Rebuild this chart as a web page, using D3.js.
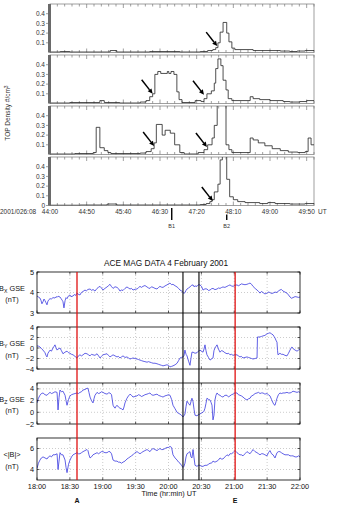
<!DOCTYPE html>
<html><head><meta charset="utf-8">
<script src="https://cdn.jsdelivr.net/npm/d3@7"></script>
<style>body{margin:0;background:#fff;} svg{display:block;font-family:"Liberation Sans",Arial,sans-serif;}</style>
</head><body><svg id="c" width="340" height="510"></svg>
<script>
// ---------- TOP chart: seconds after 08:44:00 (day 026, 2001) ----------
const topTickSecs = [0,50,100,150,200,250,300,350];
const topTickLabels = ["44:00","44:50","45:40","46:30","47:20","48:10","49:00","49:50"];
const densityYTicks = [0.1,0.2,0.3,0.4];
const density1 = [[0,0.005],[14,0.01],[27,0.005],[82,0.02],[91,0.005],[136,0.01],[177,0.005],[205,0.01],[215,0.02],[222,0.03],[226,0.05],[229,0.1],[232,0.21],[236,0.31],[241,0.2],[244,0.11],[248,0.045],[252,0.03],[277,0.02],[314,0.015],[327,0.01],[337,0.015],[348,0.02]];
const density2 = [[0,0.005],[27,0.01],[68,0.03],[74,0.01],[95,0.005],[123,0.015],[131,0.03],[136,0.07],[140,0.1],[143,0.3],[147,0.33],[151,0.31],[160,0.33],[162,0.31],[165,0.33],[169,0.3],[173,0.12],[176,0.04],[180,0.01],[198,0.03],[206,0.02],[210,0.05],[214,0.1],[220,0.13],[224,0.21],[226,0.36],[229,0.46],[233,0.39],[236,0.24],[240,0.14],[243,0.05],[248,0.03],[273,0.07],[277,0.05],[286,0.04],[300,0.03],[318,0.02],[327,0.015],[341,0.02],[350,0.03]];
const density3 = [[0,0.005],[34,0.01],[59,0.02],[63,0.28],[68,0.07],[74,0.04],[79,0.02],[83,0.01],[123,0.015],[131,0.03],[138,0.06],[142,0.12],[145,0.31],[153,0.2],[157,0.25],[164,0.22],[170,0.1],[177,0.02],[183,0.005],[202,0.02],[210,0.05],[215,0.1],[221,0.17],[224,0.3],[228,0.6],[240,0.1],[244,0.05],[248,0.02],[273,0.17],[277,0.15],[284,0.12],[293,0.09],[303,0.06],[314,0.04],[325,0.025],[338,0.02],[348,0.03],[352,0.17],[356,0.1]];
const density4 = [[0,0.003],[41,0.005],[78,0.015],[91,0.005],[150,0.005],[205,0.01],[213,0.02],[218,0.04],[221,0.06],[224,0.14],[229,0.22],[232,0.47],[235,0.6],[241,0.27],[245,0.09],[250,0.06],[256,0.04],[266,0.03],[286,0.02],[297,0.03],[307,0.02],[327,0.015],[348,0.02]];
// arrows: [panel index, time (s), density]
const arrowTips = [[0,228,0.066],[1,140,0.1],[1,210,0.09],[2,142,0.087],[2,214,0.077],[3,222,0.046]];
const bMarkers = [["B1",166,true],["B2",241,false]];

// ---------- BOTTOM chart: minutes after 18:00 UT ----------
const magTickMins = [0,30,60,90,120,150,180,210,240];
const magTickLabels = ["18:00","18:30","19:00","19:30","20:00","20:30","21:00","21:30","22:00"];
const bx = [[0,3.83],[1.3,3.78],[2.7,3.73],[3.6,3.62],[4.5,3.45],[5.5,3.55],[6.4,3.68],[7.3,3.6],[8.2,3.5],[9.1,3.4],[10,3.58],[11,3.66],[11.9,3.7],[13,3.68],[14.6,3.75],[16.4,3.73],[17.5,3.8],[18.3,3.76],[19.2,3.82],[21,3.78],[22,3.7],[23,3.62],[23.7,3.55],[24.6,3.25],[25.6,3.6],[26.5,3.75],[27.4,3.7],[28.5,3.82],[30.1,3.88],[31,3.8],[32.9,3.83],[34,3.9],[35.5,3.86],[36.5,3.97],[37.5,3.92],[39.2,3.88],[40.5,4.0],[42,4.05],[43.8,4.12],[45,4.08],[46.5,4.15],[48.4,4.17],[50,4.1],[51.1,4.15],[52.9,4.07],[54.8,4.2],[56,4.25],[57.5,4.3],[58.8,4.22],[60.2,4.12],[62,4.2],[63.9,4.27],[65,4.32],[66.6,4.4],[67.8,4.3],[69.4,4.2],[71.2,4.28],[73,4.25],[74.5,4.18],[75.7,4.07],[77,4.12],[78.5,4.1],[80.3,4.2],[82.1,4.27],[83.5,4.22],[84.9,4.17],[86.2,4.2],[87.6,4.12],[89.5,4.16],[91.3,4.17],[92.7,4.24],[94,4.3],[95.3,4.25],[96.7,4.3],[98.5,4.34],[100.4,4.27],[101.8,4.22],[103.1,4.2],[104.5,4.28],[105.9,4.25],[107.7,4.2],[109.5,4.17],[110.8,4.24],[112.2,4.3],[113.6,4.26],[115,4.25],[116.8,4.32],[118.6,4.37],[120,4.42],[121.4,4.46],[122.8,4.38],[124.1,4.4],[126,4.33],[127.8,4.27],[129.2,4.2],[130.5,4.12],[131.8,4.08],[133.2,4.02],[134.1,3.95],[135,4.0],[136,4.1],[136.9,4.17],[138.3,4.22],[139.6,4.27],[141,4.35],[142.4,4.37],[143.3,4.28],[144.2,4.32],[146,4.3],[147.3,4.38],[148.7,4.37],[150.1,4.3],[151.5,4.12],[153.3,4.18],[155.1,4.17],[156.5,4.1],[157.9,4.12],[159.2,4.18],[160.6,4.2],[162.4,4.14],[164.3,4.17],[165.6,4.22],[167,4.2],[168.3,4.24],[169.7,4.27],[171.5,4.25],[173.4,4.3],[174.8,4.34],[176.1,4.37],[177.5,4.32],[178.9,4.3],[180.7,4.35],[182.5,4.37],[183.8,4.33],[185.2,4.37],[186.5,4.42],[188,4.4],[189.8,4.38],[191.6,4.4],[193,4.43],[194.4,4.46],[195.8,4.4],[197.1,4.3],[199,4.2],[200.8,4.12],[202.2,4.05],[203.5,3.97],[204.8,4.05],[206.2,4.0],[208,3.93],[209.9,3.97],[211.2,4.02],[212.6,4.0],[214,3.95],[215.4,3.97],[217.2,4.02],[219,4.0],[220.3,4.08],[221.7,4.12],[223,4.15],[224.5,4.07],[226.3,4.02],[228.1,3.97],[229.5,3.88],[230.9,3.78],[232.2,3.72],[233.6,3.75],[235.5,3.8],[237.3,3.78],[238.6,3.76],[240,3.78]];
const by = [[0,0.4],[1.3,0.35],[2.7,0.2],[4,-0.1],[5.5,-0.4],[7.3,-0.9],[8.2,-1.4],[9.1,-1.7],[10,-1.0],[11.9,-0.4],[13.2,-0.6],[14.6,0],[15.5,0.3],[16.4,0.6],[17.3,0.1],[18.3,-0.4],[19.2,-0.2],[21,0],[22.3,-0.5],[23.7,-1.1],[25.5,-0.8],[27.4,-0.6],[28.8,-0.9],[30.1,-1.0],[31.5,-1.2],[32.9,-1.3],[34.7,-1.6],[36.5,-1.9],[37.8,-1.5],[39.2,-1.3],[40.6,-1.5],[42,-1.3],[43.8,-1.0],[45.6,-1.1],[47,-1.3],[48.4,-1.5],[49.7,-1.2],[51.1,-1.3],[52.9,-1.4],[54.8,-1.1],[56.2,-1.5],[57.5,-1.9],[58.8,-1.6],[60.2,-1.3],[62,-1.2],[63.9,-1.1],[65.2,-1.4],[66.6,-1.7],[68,-1.5],[69.4,-1.3],[71.2,-1.5],[73,-1.7],[74.3,-1.6],[75.7,-1.9],[77.1,-1.7],[78.5,-1.5],[80.3,-1.8],[82.1,-1.7],[83.5,-1.9],[84.9,-2.1],[86.2,-2.0],[87.6,-1.9],[89.4,-2.0],[91.3,-2.1],[92.6,-2.2],[94,-2.3],[95.3,-2.4],[96.7,-2.5],[98.5,-2.6],[100.4,-2.7],[101.8,-2.6],[103.1,-2.7],[104.5,-2.8],[105.9,-2.9],[107.7,-2.9],[109.5,-3.0],[110.8,-3.1],[112.2,-3.2],[113.6,-3.3],[115,-3.4],[116.8,-3.3],[118.6,-3.2],[120,-3.3],[121.4,-3.6],[122.8,-3.5],[124.1,-3.4],[126,-3.2],[127.8,-2.9],[129.2,-2.4],[130.5,-1.9],[131.8,-1.8],[133.2,-1.7],[134.1,-1.5],[135,-0.4],[136,-1.2],[136.9,-1.5],[138.3,-2.5],[139.6,-3.3],[140.5,-2.0],[141.4,-0.8],[142.4,-0.8],[144.2,-1.0],[146,-0.9],[147.3,-0.6],[148.7,-0.4],[150.1,-0.6],[151.5,-0.8],[152.4,-0.2],[153.3,0.6],[154.2,-0.5],[155.1,-1.3],[156.5,-1.8],[157.9,-2.3],[159.2,-2.1],[160.6,-1.9],[161.5,-0.5],[162.4,0.0],[163.3,0.3],[164.3,0.6],[165.6,-0.2],[167,-0.8],[168.3,-0.5],[169.7,-0.6],[171.5,-0.9],[173.4,-1.1],[174.8,-1.0],[176.1,-1.3],[177.5,-1.2],[178.9,-1.4],[180.7,-1.3],[182.5,-1.3],[183.8,-1.5],[185.2,-1.7],[186.5,-1.6],[188,-1.9],[189.8,-1.8],[191.6,-1.7],[193,-1.8],[194.4,-1.9],[195.8,-2.0],[197.1,-2.1],[199,-2.0],[200.8,-1.9],[201.2,2.1],[203.5,2.1],[204.8,2.2],[206.2,2.3],[208,2.4],[209.9,2.7],[211.2,2.8],[212.6,2.9],[214,2.7],[215.4,2.5],[216.3,2.2],[217.2,1.9],[218,1.5],[219,1.1],[219.5,-0.5],[219.9,-1.3],[221.7,-1.0],[223,-1.2],[224.5,-1.2],[226.3,-1.4],[228.1,-1.5],[229.5,-1.0],[230.9,-0.4],[232.2,0.1],[232.7,0.2],[233.6,-0.1],[235.5,-0.4],[237.3,-0.6],[238.6,-0.4],[240,-0.2]];
const bz = [[0,1.6],[1.3,2.4],[2.7,2.9],[4,3.2],[5.5,3.3],[7.3,3.0],[9.1,2.9],[10.5,3.2],[11.9,3.4],[13.2,3.2],[14.6,3.3],[16.4,3.5],[18.3,3.4],[19.2,0.4],[20.1,2.5],[21,3.8],[22.3,3.5],[23.7,3.6],[25.6,2.9],[26.5,2.0],[27.4,1.2],[28.8,2.2],[30.1,2.8],[31.5,3.0],[32.9,3.1],[34.7,3.2],[36.5,3.3],[37.8,3.2],[39.2,3.4],[40.6,3.5],[42,3.8],[43.8,3.9],[45.6,4.1],[46.5,4.1],[47.4,3.4],[48.4,2.6],[49.7,2.0],[51.1,1.6],[52,2.3],[52.9,2.9],[54.8,3.4],[56.2,3.2],[57.5,3.3],[58.8,3.5],[60.2,3.4],[62,3.2],[63.9,3.1],[65.2,3.3],[66.6,3.3],[68,3.0],[69.4,1.2],[70.3,0.9],[71.2,0.7],[72.1,1.0],[73,1.2],[74.3,0.9],[75.7,0.7],[77.1,0.6],[78.5,0.4],[79.4,0.9],[80.3,1.6],[81.2,2.0],[82.1,2.4],[83.5,2.8],[84.9,3.1],[86.2,2.9],[87.6,2.6],[89.4,2.7],[91.3,2.8],[92.6,3.0],[94,2.9],[95.3,2.7],[96.7,2.8],[98.5,3.0],[100.4,3.1],[101.8,3.2],[103.1,3.3],[104.5,3.0],[105.9,2.9],[107.7,3.0],[109.5,3.1],[110.8,2.9],[112.2,2.8],[113.6,2.7],[115,2.6],[116.8,2.8],[118.6,2.9],[120,3.0],[121.4,2.9],[122.8,2.2],[124.1,1.2],[126,0.6],[127.8,0.0],[129.2,-0.2],[130.5,-0.3],[131.8,-0.5],[133.2,-0.8],[134.1,-0.6],[135,-0.3],[136,1.0],[136.9,1.9],[138.3,1.5],[139.6,1.2],[140.5,1.8],[141.4,2.4],[142.4,1.8],[143.3,0.5],[144.2,-0.5],[146,-0.6],[147.3,-0.4],[148.7,-0.3],[150.1,-0.1],[151.5,0.0],[152.4,0.2],[153.3,0.7],[154.2,1.5],[155.1,2.4],[156.5,2.2],[157.9,2.1],[158.8,1.7],[159.7,1.2],[160.6,-1.3],[161.5,-0.5],[162.4,2.1],[163.3,2.9],[164.3,3.3],[165.6,3.0],[167,2.9],[168.3,2.7],[169.7,2.6],[171.5,2.9],[173.4,2.9],[174.8,2.6],[176.1,2.8],[177.5,3.0],[178.9,3.1],[180.7,3.3],[182.5,3.3],[183.8,3.0],[185.2,2.9],[186.5,2.8],[188,2.6],[189.8,2.3],[191.6,2.1],[193,2.3],[194.4,2.4],[195.8,2.8],[197.1,2.9],[199,3.2],[200.8,3.3],[202.2,3.4],[203.5,3.2],[204.8,3.3],[206.2,3.3],[208,3.1],[209.9,3.2],[211.2,3.0],[212.6,2.8],[214,2.2],[215.4,1.6],[216.3,1.3],[217.2,1.2],[218.1,1.8],[219,2.4],[220.3,3.0],[221.7,3.3],[223,3.2],[224.5,3.3],[226.3,3.3],[228.1,3.4],[229.5,3.3],[230.9,3.3],[232.2,3.4],[233.6,3.6],[235.5,3.5],[237.3,3.4],[238.6,3.5],[240,3.4]];
const bmag = [[0,4.1],[1.3,4.6],[2.7,4.9],[4,5.1],[5.5,5.2],[7.3,5.1],[9.1,5.0],[10.5,5.2],[11.9,5.3],[13.2,5.2],[14.6,5.4],[16.4,5.4],[18.3,5.5],[19.2,4.0],[20.1,4.8],[21,5.6],[22.3,5.4],[23.7,5.4],[25.6,4.9],[26.5,4.2],[27.4,3.7],[28.8,4.5],[30.1,4.9],[31.5,5.2],[32.9,5.4],[34.7,5.5],[36.5,5.6],[37.8,5.5],[39.2,5.5],[40.6,5.6],[42,5.7],[43.8,5.8],[45.6,5.9],[46.5,5.8],[47.4,5.4],[48.4,5.1],[49.7,5.2],[51.1,5.4],[52.9,5.5],[54.8,5.6],[56.2,5.5],[57.5,5.6],[58.8,5.7],[60.2,5.7],[62,5.6],[63.9,5.6],[65.2,5.7],[66.6,5.7],[68,5.5],[69.4,4.9],[71.2,4.8],[73,4.8],[74.3,4.7],[75.7,4.7],[77.1,4.6],[78.5,4.7],[80.3,4.8],[82.1,5.0],[83.5,5.1],[84.9,5.2],[86.2,5.3],[87.6,5.4],[89.4,5.6],[91.3,5.7],[92.6,5.6],[94,5.5],[95.3,5.6],[96.7,5.7],[98.5,5.8],[100.4,5.9],[101.8,5.8],[103.1,5.7],[104.5,5.9],[105.9,6.0],[107.7,5.9],[109.5,5.8],[110.8,5.9],[112.2,6.0],[113.6,5.9],[115,5.9],[116.8,6.0],[118.6,6.1],[120,6.1],[121.4,6.2],[122.8,6.1],[124.1,5.4],[126,5.1],[127.8,4.9],[129.2,4.7],[130.5,4.6],[131.8,4.4],[133.2,4.2],[134.1,4.3],[135,4.6],[136,5.2],[136.9,5.5],[138.3,5.6],[139.6,5.7],[140.5,5.2],[141.4,5.1],[142.4,5.9],[143.3,5.1],[144.2,4.4],[146,4.3],[147.3,4.4],[148.7,4.4],[150.1,4.3],[151.5,4.3],[153.3,4.4],[155.1,4.4],[156.5,4.5],[157.9,4.6],[159.2,4.6],[160.6,4.8],[162.4,4.7],[164.3,4.8],[165.6,4.9],[167,5.1],[168.3,5.0],[169.7,5.0],[171.5,5.2],[173.4,5.4],[174.8,5.3],[176.1,5.5],[177.5,5.5],[178.9,5.6],[180.7,5.8],[182.5,5.6],[183.8,5.5],[185.2,5.4],[186.5,5.4],[188,5.3],[189.8,5.5],[191.6,5.7],[193,5.6],[194.4,5.5],[195.8,5.7],[197.1,5.9],[199,5.7],[200.8,5.6],[202.2,5.5],[203.5,5.4],[204.8,5.5],[206.2,5.5],[208,5.4],[209.9,5.3],[211.2,5.6],[212.6,5.8],[214,5.5],[215.4,5.4],[217.2,5.1],[219,5.6],[220.3,5.7],[221.7,5.7],[223,5.6],[224.5,5.5],[226.3,5.4],[228.1,5.4],[229.5,5.4],[230.9,5.3],[232.2,5.3],[233.6,5.3],[235.5,5.2],[237.3,5.2],[238.6,5.3],[240,5.2]];
const magDomains = [[3,5],[-4,4],[-2,5],[3,7]];
const magYTicks = [[3,4,5],[-4,-2,0,2,4],[-2,0,2,4],[4,6]];
const magLabels = [["B","X"," GSE"],["B","Y"," GSE"],["B","Z"," GSE"],["<|B|>","",""]];
// event lines: [minutes, colour, label]
const eventLines = [[36.5,"red","A"],[133.2,"black",""],[147.8,"black",""],[180.8,"red","E"]];

const svg = d3.select("#c");
const txtCol = "#333";

// ================= TOP CHART =================
const tx = d3.scaleLinear().domain([0,360]).range([50,314]);
const topTops = [4,55,106,157], topH = 48.5;
const densities = [density1,density2,density3,density4];
const defs = svg.append("defs");
topTops.forEach((top,i)=>{
  const y = d3.scaleLinear().domain([0,0.5]).range([top+topH, top]);
  const g = svg.append("g");
  defs.append("clipPath").attr("id","tc"+i).append("rect")
    .attr("x",tx(0)).attr("y",top).attr("width",tx(360)-tx(0)).attr("height",topH);
  g.append("rect").attr("x",tx(0)).attr("y",top).attr("width",tx(360)-tx(0)).attr("height",topH)
    .attr("fill","none").attr("stroke","#888").attr("stroke-width",0.8);
  // x ticks every 10 s, inward at top and bottom
  d3.range(0,361,10).forEach(s=>{
    const L = (s%50===0)?4:2.5;
    g.append("line").attr("x1",tx(s)).attr("x2",tx(s)).attr("y1",top).attr("y2",top+L).attr("stroke","#777").attr("stroke-width",0.7);
    g.append("line").attr("x1",tx(s)).attr("x2",tx(s)).attr("y1",top+topH).attr("y2",top+topH-L).attr("stroke","#777").attr("stroke-width",0.7);
  });
  const yt = i===3 ? [0].concat(densityYTicks) : densityYTicks;
  yt.forEach(v=>{
    g.append("line").attr("x1",tx(0)-4).attr("x2",tx(0)).attr("y1",y(v)).attr("y2",y(v)).attr("stroke","#777").attr("stroke-width",0.7);
    g.append("text").attr("x",tx(0)-5).attr("y",y(v)+2.3).attr("text-anchor","end")
      .attr("font-size",6.5).attr("fill",txtCol).text(v===0?"0":d3.format(".1f")(v).replace(/^0/,i===3||true?"0":""));
  });
  const data = densities[i].concat([[360, densities[i][densities[i].length-1][1]]]);
  g.append("path").datum(data).attr("clip-path","url(#tc"+i+")")
    .attr("d", d3.line().x(d=>tx(d[0])).y(d=>y(Math.min(d[1],0.52))).curve(d3.curveStepAfter))
    .attr("fill","none").attr("stroke","#222").attr("stroke-width",0.8);
  // thick left bar
  g.append("rect").attr("x",tx(0)-2).attr("y",top).attr("width",3).attr("height",topH).attr("fill","#6a6a6a");
});
// arrows
arrowTips.forEach(([p,s,v])=>{
  const y = d3.scaleLinear().domain([0,0.5]).range([topTops[p]+topH, topTops[p]]);
  const x2 = tx(s), y2 = y(v), x1 = x2-11, y1 = y2-14;
  const ang = Math.atan2(y2-y1,x2-x1), hl = 5, hw = 2.4;
  const bx0 = x2-hl*Math.cos(ang), by0 = y2-hl*Math.sin(ang);
  svg.append("line").attr("x1",x1).attr("y1",y1).attr("x2",bx0).attr("y2",by0).attr("stroke","#000").attr("stroke-width",1.5);
  svg.append("path").attr("d",`M${x2},${y2}L${bx0+hw*Math.sin(ang)},${by0-hw*Math.cos(ang)}L${bx0-hw*Math.sin(ang)},${by0+hw*Math.cos(ang)}Z`).attr("fill","#000");
});
// bottom labels
topTickSecs.forEach((s,k)=>{
  svg.append("text").attr("x",tx(s)).attr("y",214).attr("text-anchor","middle").attr("font-size",6.5).attr("fill",txtCol).text(topTickLabels[k]);
});
svg.append("text").attr("x",0).attr("y",214).attr("font-size",6.5).attr("fill",txtCol).text("2001/026:08");
svg.append("text").attr("x",318).attr("y",214).attr("font-size",6.5).attr("fill",txtCol).text("UT");
bMarkers.forEach(([lab,s,long])=>{
  svg.append("line").attr("x1",tx(s)).attr("x2",tx(s)).attr("y1",long?208:214.5).attr("y2",220).attr("stroke","#000").attr("stroke-width",1.4);
  svg.append("text").attr("x",tx(s)).attr("y",228).attr("text-anchor","middle").attr("font-size",5.5).attr("fill",txtCol).text(lab);
});
const yt = svg.append("text").attr("transform","translate(10,113) rotate(-90)").attr("text-anchor","middle").attr("font-size",6.5).attr("fill",txtCol);
yt.append("tspan").text("TOP Density  #/cm");
yt.append("tspan").attr("dy",-2.5).attr("font-size",5).text("3");

// ================= BOTTOM CHART =================
const mx = d3.scaleLinear().domain([0,240]).range([37,300]);
const magTops = [272,327,383,438], magBots = [313,369,424,480];
const magSeries = [bx,by,bz,bmag];
svg.append("text").attr("x",166).attr("y",266).attr("text-anchor","middle").attr("font-size",8.3).attr("fill","#111").text("ACE MAG DATA 4 February 2001");
magTops.forEach((top,i)=>{
  const bot = magBots[i];
  const y = d3.scaleLinear().domain(magDomains[i]).range([bot, top]);
  const g = svg.append("g");
  defs.append("clipPath").attr("id","mc"+i).append("rect").attr("x",mx(0)).attr("y",top).attr("width",mx(240)-mx(0)).attr("height",bot-top);
  // grid
  magTickMins.slice(1,-1).forEach(m=>{
    g.append("line").attr("x1",mx(m)).attr("x2",mx(m)).attr("y1",top).attr("y2",bot).attr("stroke","#aaa").attr("stroke-width",0.6).attr("stroke-dasharray","1,2");
  });
  magYTicks[i].forEach(v=>{
    if (v>magDomains[i][0] && v<magDomains[i][1])
      g.append("line").attr("x1",mx(0)).attr("x2",mx(240)).attr("y1",y(v)).attr("y2",y(v)).attr("stroke","#aaa").attr("stroke-width",0.6).attr("stroke-dasharray","1,2");
  });
  g.append("path").datum(magSeries[i]).attr("clip-path","url(#mc"+i+")")
    .attr("d", d3.line().x(d=>mx(d[0])).y(d=>y(d[1])))
    .attr("fill","none").attr("stroke","#3a3ae0").attr("stroke-width",0.8);
  // ticks inward
  magTickMins.forEach(m=>{
    g.append("line").attr("x1",mx(m)).attr("x2",mx(m)).attr("y1",bot).attr("y2",bot-2.5).attr("stroke","#000").attr("stroke-width",0.6);
    g.append("line").attr("x1",mx(m)).attr("x2",mx(m)).attr("y1",top).attr("y2",top+2.5).attr("stroke","#000").attr("stroke-width",0.6);
  });
  magYTicks[i].forEach(v=>{
    g.append("line").attr("x1",mx(0)).attr("x2",mx(0)+2.5).attr("y1",y(v)).attr("y2",y(v)).attr("stroke","#000").attr("stroke-width",0.6);
    g.append("line").attr("x1",mx(240)).attr("x2",mx(240)-2.5).attr("y1",y(v)).attr("y2",y(v)).attr("stroke","#000").attr("stroke-width",0.6);
    g.append("text").attr("x",mx(0)-3).attr("y",y(v)+2.6).attr("text-anchor","end").attr("font-size",7.3).attr("fill","#111").text(v<0?"\u2212"+Math.abs(v):v);
  });
  g.append("rect").attr("x",mx(0)).attr("y",top).attr("width",mx(240)-mx(0)).attr("height",bot-top).attr("fill","none").attr("stroke","#000").attr("stroke-width",0.8);
  // y label
  const mid = (top+bot)/2;
  const lab = magLabels[i];
  const t1 = g.append("text").attr("x",12).attr("y",mid-2).attr("text-anchor","middle").attr("font-size",7.3).attr("fill","#111");
  t1.append("tspan").text(lab[0]);
  if (lab[1]) { t1.append("tspan").attr("dy",2).attr("font-size",5.2).text(lab[1]); t1.append("tspan").attr("dy",-2).text(lab[2]); }
  g.append("text").attr("x",12).attr("y",mid+9.5).attr("text-anchor","middle").attr("font-size",7.3).attr("fill","#111").text("(nT)");
});
magTickMins.forEach((m,k)=>{
  svg.append("text").attr("x",mx(m)).attr("y",488.5).attr("text-anchor","middle").attr("font-size",7.3).attr("fill","#111").text(magTickLabels[k]);
});
svg.append("text").attr("x",169).attr("y",496).attr("text-anchor","middle").attr("font-size",7.3).attr("fill","#111").text("Time (hr:min) UT");
eventLines.forEach(([m,c,lab])=>{
  svg.append("line").attr("x1",mx(m)).attr("x2",mx(m)).attr("y1",magTops[0]).attr("y2",magBots[3])
    .attr("stroke",c==="red"?"#e01010":"#000").attr("stroke-width",c==="red"?1.3:1.1);
  if (lab) svg.append("text").attr("x",mx(m)).attr("y",503).attr("text-anchor","middle").attr("font-size",7).attr("font-weight","bold").attr("fill","#111").text(lab);
});
</script></body></html>
